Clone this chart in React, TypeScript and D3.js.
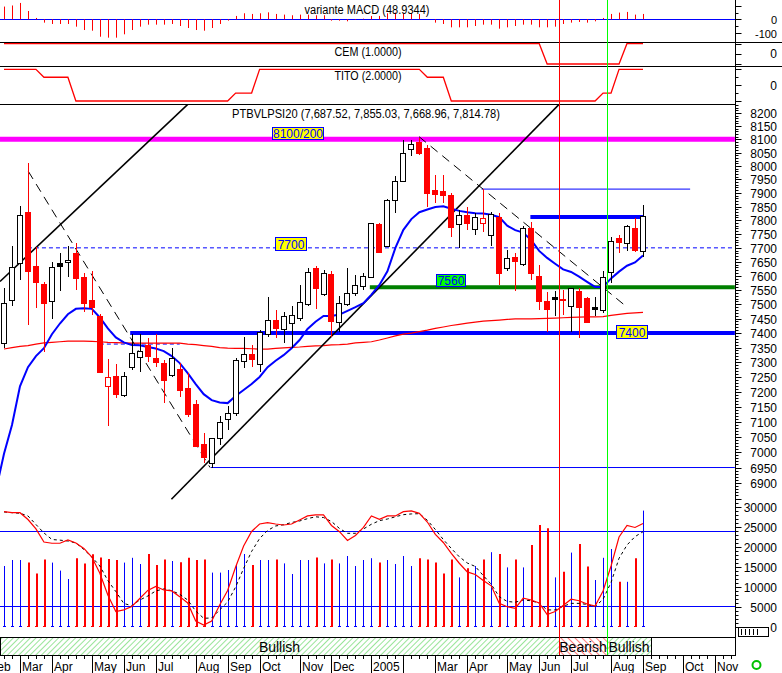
import React from "react";
import * as d3 from "d3";

// ---------- DATA (weekly, first bar = week of 2004-02-20) ----------
const open = [
  7365, 7515, 7645, 7830, 7636, 7572, 7511, 7645, 7648, 7681,
  7596, 7515, 7459, 7219, 7253, 7188, 7284, 7319, 7359, 7315,
  7298, 7256, 7277, 7214, 7159, 7027, 6964, 7045, 7108, 7130,
  7303, 7327, 7294, 7396, 7445, 7413, 7436, 7451, 7500, 7629,
  7535, 7605, 7439, 7501, 7538, 7565, 7597, 7785, 7708, 7874,
  7944, 8062, 8091, 8068, 7911, 7908, 7892, 7785, 7819, 7767,
  7791, 7746, 7811, 7627, 7666, 7642, 7773, 7600, 7512, 7526,
  7518, 7494, 7546, 7521, 7491, 7480, 7615, 7736, 7718, 7773,
  7687.52,
];
const high = [
  7557, 7708, 7852, 8010, 7704, 7580, 7648, 7680, 7706, 7718,
  7609, 7617, 7466, 7311, 7294, 7266, 7396, 7397, 7382, 7397,
  7306, 7348, 7296, 7264, 7172, 7062, 7047, 7119, 7152, 7313,
  7387, 7359, 7410, 7526, 7480, 7474, 7494, 7568, 7629, 7635,
  7621, 7617, 7529, 7627, 7603, 7610, 7791, 7789, 7877, 7962,
  8097, 8097, 8104, 8078, 7966, 7966, 7898, 7837, 7849, 7825,
  7915, 7829, 7825, 7692, 7680, 7779, 7793, 7639, 7544, 7548,
  7550, 7558, 7556, 7525, 7526, 7618, 7740, 7747, 7783, 7807,
  7855.03,
];
const low = [
  7350, 7495, 7585, 7428, 7486, 7334, 7448, 7548, 7597, 7550,
  7474, 7462, 7263, 7087, 7178, 7181, 7273, 7268, 7301, 7284,
  7164, 7250, 7181, 7115, 7017, 6964, 6950, 7023, 7073, 7119,
  7279, 7284, 7268, 7387, 7384, 7367, 7347, 7443, 7494, 7482,
  7529, 7387, 7404, 7494, 7529, 7550, 7591, 7680, 7704, 7828,
  7942, 8037, 8040, 7847, 7862, 7862, 7740, 7698, 7764, 7746,
  7757, 7708, 7568, 7618, 7545, 7636, 7585, 7480, 7404, 7459,
  7462, 7404, 7382, 7436, 7459, 7468, 7574, 7680, 7690, 7686,
  7668.96,
];
const close = [
  7503, 7630, 7818, 7618, 7579, 7505, 7630, 7635, 7656, 7593,
  7503, 7489, 7266, 7251, 7192, 7253, 7330, 7338, 7322, 7301,
  7240, 7313, 7206, 7126, 7021, 6985, 7045, 7098, 7128, 7306,
  7327, 7310, 7404, 7445, 7416, 7459, 7462, 7509, 7615, 7557,
  7609, 7443, 7503, 7540, 7568, 7600, 7789, 7686, 7874, 7944,
  8047, 8081, 8047, 7899, 7897, 7894, 7776, 7819, 7789, 7813,
  7807, 7822, 7609, 7662, 7654, 7773, 7609, 7511, 7483, 7517,
  7514, 7556, 7489, 7439, 7483, 7595, 7725, 7721, 7779, 7692,
  7814.78,
];
const volume = [
  15250, 16750, 16750, 16100, 13400, 16900, 16100, 14100, 12000, 17200,
  15900, 18200, 17400, 17000, 16750, 16100, 17300, 15750, 18250, 15500,
  16900, 16500, 16200, 17300, 16750, 16900, 13600, 13600, 14250, 15500,
  18250, 15500, 16750, 16750, 16900, 15900, 13250, 16750, 16750, 17400,
  15900, 16900, 15900, 17750, 15250, 16750, 17200, 16100, 16750, 15750,
  17750, 15250, 17200, 16900, 16100, 13400, 16900, 12400, 14700, 15250,
  16900, 18700, 18250, 14900, 16900, 14900, 20500, 25500, 24700, 12400,
  13800, 18600, 20750, 15100, 11750, 17300, 19500, 11300, 11300, 17200,
  29100,
];
const macd = [
  95, 103, 122, 62, 10, -25, -35, -35, -35, -55,
  -80, -85, -130, -137, -137, -112, -80, -55, -40, -40,
  -40, -35, -50, -65, -80, -85, -65, -35, -10, 25,
  45, 40, 45, 52, 40, 35, 30, 35, 35, 30,
  30, -10, -10, -15, -5, 5, 25, 25, 45, 50,
  45, 45, 40, 0, -25, -35, -60, -60, -60, -50,
  -40, -40, -70, -60, -50, -40, -40, -60, -60, -55,
  -35, -25, -20, -25, -15, 10, 40, 50, 55, 35,
  40,
];
const cem = [
  1, 1, 1, 1, 1, 1, 1, 1, 1, 1,
  1, 1, 1, 1, 1, 1, 1, 1, 1, 1,
  1, 1, 1, 1, 1, 1, 1, 1, 1, 1,
  1, 1, 1, 1, 1, 1, 1, 1, 1, 1,
  1, 1, 1, 1, 1, 1, 1, 1, 1, 1,
  1, 1, 1, 1, 1, 1, 1, 1, 1, 1,
  1, 1, 1, 1, 1, 1, 1, 1, -1, -1,
  -1, -1, -1, -1, -1, -1, -1, -1, 1, 1,
  1,
];
const tito = [
  2, 2, 2, 2, 2, 1, 1, 1, 1, -2,
  -2, -2, -2, -2, -2, -2, -2, -2, -2, -2,
  -2, -2, -2, -2, -2, -2, -2, -2, -2, -1,
  -1, -1, 2, 2, 2, 2, 2, 2, 2, 2,
  2, 2, 2, 2, 2, 2, 2, 2, 2, 2,
  2, 2, 2, 1, 1, 1, -2, -2, -2, -2,
  -2, -2, -2, -2, -2, -2, -2, -2, -2, -2,
  -2, -2, -2, -2, -2, -1, -1, 2, 2, 2,
  2,
];
// fast moving average (blue), first value is the week before the first bar
const maFast = [
  6878,
  6995, 7089, 7218, 7283, 7321, 7348, 7396, 7433, 7465, 7484,
  7486, 7484, 7454, 7416, 7385, 7368, 7359, 7358, 7352, 7347,
  7338, 7321, 7297, 7263, 7226, 7192, 7172, 7164, 7162, 7186,
  7206, 7226, 7250, 7283, 7305, 7324, 7348, 7376, 7414, 7439,
  7459, 7459, 7464, 7477, 7490, 7504, 7534, 7568, 7616, 7700,
  7765, 7804, 7829, 7839, 7848, 7851, 7842, 7834, 7829, 7825,
  7824, 7820, 7811, 7780, 7764, 7755, 7728, 7689, 7664, 7643,
  7623, 7614, 7597, 7579, 7561, 7561, 7591, 7615, 7636, 7648,
  7673,
];
// slow moving average (red)
const maSlow = [
  7345, 7350, 7354, 7357, 7362, 7366, 7368, 7370, 7372, 7372,
  7372, 7371, 7370, 7368, 7367, 7366, 7365, 7365, 7365, 7365,
  7365, 7365, 7365, 7362, 7360, 7357, 7354, 7350, 7348, 7347,
  7347, 7346, 7345, 7345, 7347, 7349, 7351, 7352, 7354, 7356,
  7357, 7359, 7360, 7362, 7366, 7368, 7370, 7376, 7383, 7390,
  7396, 7400, 7405, 7410, 7416, 7421, 7426, 7430, 7434, 7438,
  7441, 7443, 7445, 7447, 7449, 7449, 7449, 7450, 7451, 7452,
  7453, 7454, 7455, 7456, 7456, 7457, 7461, 7465, 7468, 7470,
  7472,
];
const oscK = [
  95.9, 95.1, 95.1, 89.6, 82.0, 71.5, 70.5, 70.5, 73.1, 70.7,
  66.3, 59.4, 46.3, 28.8, 15.5, 16.9, 19.6, 26.0, 32.5, 35.7,
  32.9, 32.1, 27.5, 22.4, 7.9, 4.7, 7.9, 20.8, 32.5, 51.4,
  68.3, 80.0, 86.0, 87.1, 86.0, 85.2, 86.0, 89.2, 92.5, 93.3,
  93.3, 84.8, 79.8, 72.7, 76.7, 83.2, 92.5, 89.8, 92.5, 92.5,
  95.9, 96.5, 94.6, 87.6, 77.6, 71.1, 62.3, 54.4, 47.4, 45.3,
  40.5, 36.2, 22.1, 19.4, 18.0, 26.2, 24.8, 22.4, 13.1, 15.5,
  20.4, 25.4, 24.2, 21.6, 20.0, 32.1, 52.2, 75.5, 84.8, 83.2,
  86.4,
];
const oscD = [
  95.7, 95.1, 94.6, 92.5, 85.6, 78.8, 73.5, 73.0, 72.3, 70.7,
  65.5, 59.4, 52.2, 40.5, 31.6, 22.0, 20.2, 24.8, 28.0, 32.1,
  33.7, 32.3, 29.4, 24.8, 15.9, 10.1, 10.3, 16.8, 23.2, 35.3,
  50.2, 63.9, 74.3, 80.8, 84.4, 85.4, 87.2, 88.4, 90.3, 91.8,
  91.2, 88.0, 82.4, 78.5, 78.5, 82.0, 85.8, 88.7, 90.0, 91.8,
  93.5, 94.1, 94.3, 89.0, 81.6, 73.5, 66.3, 59.6, 54.6, 51.8,
  44.5, 37.4, 27.5, 23.6, 23.0, 24.8, 24.2, 22.2, 16.8, 16.8,
  19.7, 22.1, 22.1, 21.2, 19.4, 25.4, 38.9, 58.4, 69.1, 75.8,
  79.8,
];
const oscLevels = [80, 20];

// month ticks (week index of first weekly bar of each month)
const monthLabels = ["Feb", "Mar", "Apr", "May", "Jun", "Jul", "Aug", "Sep", "Oct", "Nov", "Dec", "2005", "Feb", "Mar", "Apr", "May", "Jun", "Jul", "Aug", "Sep", "Oct", "Nov"];
const monthWeeks = [-2, 2, 6, 11, 15, 19, 24, 28, 32, 37, 41, 46, 50, 54, 58, 63, 67, 71, 76, 80, 85, 89];
const monthShown = [true, true, true, true, true, true, true, true, true, true, true, true, false, true, true, true, true, true, true, true, true, true];

// drawn studies
const priceLevels = [
  { price: 8100, from: -0.5, to: 91.5, color: "#ff00ff", width: 5, dash: "" },
  { price: 7700, from: 3, to: 91.5, color: "#0000ff", width: 1, dash: "4,3" },
  { price: 7560, from: 45.8, to: 91.5, color: "#008000", width: 4, dash: "" },
  { price: 7400, from: 15.8, to: 91.5, color: "#0000ff", width: 4, dash: "" },
  { price: 7812, from: 65.9, to: 80, color: "#0000ff", width: 4, dash: "" },
  { price: 7914, from: 59.8, to: 85.9, color: "#0000ff", width: 1, dash: "" },
  { price: 6950, from: 25.9, to: 91.5, color: "#0000ff", width: 1, dash: "" },
  { price: 7362, from: 12, to: 22, color: "#0000ff", width: 1, dash: "4,3" },
];
const levelLabels = [
  { text: "8100/200", week: 33.5, price: 8100, w: 51, h: 12, dy: -12, fill: "#ffff00" },
  { text: "7700", week: 33.9, price: 7700, w: 31, h: 13, dy: -10.5, fill: "#ffff00" },
  { text: "7560", week: 54.05, price: 7560, w: 29, h: 12, dy: -13, fill: "#00ff00" },
  { text: "7400", week: 76.6, price: 7400, w: 31, h: 13, dy: -8, fill: "#ffff00" },
];
const solidTrends = [
  { w1: -0.5, p1: 7580, w2: 23.04, p2: 8234 },
  { w1: 20.96, p1: 6848, w2: 69.52, p2: 8234 },
];
const dashedTrends = [
  { w1: 3.04, p1: 7980, w2: 25.8, p2: 6950 },
  { w1: 51.96, p1: 8110, w2: 77.96, p2: 7491 },
];
const sellSignal = 69.5;
const buySignal = 75.5;
const regimes = [
  { label: "Bullish", from: -0.5, to: 69.5, bull: true },
  { label: "Bearish", from: 69.5, to: 75.5, bull: false },
  { label: "Bullish", from: 75.5, to: 81, bull: true },
];

const FONT = "'Liberation Sans', Arial, Helvetica, sans-serif";

export default function App() {
  const N = close.length;
  const weeks = d3.range(N);
  const x = d3.scaleLinear().domain([0, 80]).range([4, 643]);
  const px = (w: number) => Math.round(x(w));
  const yP = d3.scaleLog().domain([6900, 8200]).range([483, 113]);
  const yV = d3.scaleLinear().domain([0, 30000]).range([627, 507]);
  const yO = d3.scaleLinear().domain([0, 100]).range([630.8, 506.6]);
  const yM = d3.scaleLinear().domain([-100, 0]).range([32.7, 19.3]);
  const yC = d3.scaleLinear().domain([-1, 1]).range([64, 43.5]);
  const yT = d3.scaleLinear().domain([-2, 2]).range([101, 69.3]);
  const AX = 735.5;
  const RX = 777;

  const col = (i: number) => (i === 0 || close[i] >= close[i - 1] ? "#000000" : "#ff0000");

  const lineFast = d3.line<number>().x((_, k) => x(k - 1)).y((v) => yP(v));
  const lineSlow = d3.line<number>().x((_, k) => x(k)).y((v) => yP(v));
  const lineOsc = d3.line<number>().x((_, k) => x(k)).y((v) => yO(v));
  const lineCem = d3.line<number>().x((_, k) => x(k)).y((v) => yC(v));
  const lineTito = d3.line<number>().x((_, k) => x(k)).y((v) => yT(v));

  const priceTicks = d3.range(6850, 8240, 10).filter((v) => yP(v) >= 104 && yP(v) <= 500);
  const volTicks = d3.range(0, 32000, 1000).filter((v) => yV(v) >= 500);

  return (
    <div style={{ position: "absolute", left: 0, top: 0, width: 782, height: 673, background: "#fff" }}>
      <svg width={782} height={673} style={{ display: "block" }} fontFamily={FONT}>
        <defs>
          <clipPath id="clipMain"><rect x={0} y={104} width={735} height={396} /></clipPath>
          <clipPath id="clipVol"><rect x={0} y={500} width={735} height={137} /></clipPath>
          <clipPath id="clipTop"><rect x={0} y={0} width={735} height={104} /></clipPath>
          <pattern id="hatchG" width="4" height="4" patternUnits="userSpaceOnUse" patternTransform="rotate(45)">
            <line x1="0" y1="0" x2="0" y2="4" stroke="#33cc33" strokeWidth="1" />
          </pattern>
          <pattern id="hatchR" width="5" height="5" patternUnits="userSpaceOnUse" patternTransform="rotate(-45)">
            <line x1="0" y1="0" x2="0" y2="5" stroke="#ff0000" strokeWidth="1" />
          </pattern>
        </defs>
        <rect x={0} y={0} width={782} height={673} fill="#fff" />

        {/* ---------- top panels ---------- */}
        <g clipPath="url(#clipTop)">
          <line x1={0} x2={735} y1={19.5} y2={19.5} stroke="#0000ff" />
          {weeks.map((i) => (
            <line key={"m" + i} x1={px(i) + 0.5} x2={px(i) + 0.5} y1={yM(0)} y2={yM(macd[i])} stroke="#ff0000" />
          ))}
          <path d={lineCem(cem) || ""} fill="none" stroke="#ff0000" strokeWidth={1.3} />
          <path d={lineTito(tito) || ""} fill="none" stroke="#ff0000" strokeWidth={1.3} />
        </g>
        <text x={367} y={14} textAnchor="middle" fontSize={12} textLength={125} lengthAdjust="spacingAndGlyphs">variante MACD (48.9344)</text>
        <text x={368} y={56} textAnchor="middle" fontSize={12} textLength={67} lengthAdjust="spacingAndGlyphs">CEM (1.0000)</text>
        <text x={368} y={80} textAnchor="middle" fontSize={12} textLength={67} lengthAdjust="spacingAndGlyphs">TITO (2.0000)</text>
        <line x1={0} x2={782} y1={42.5} y2={42.5} stroke="#000" />
        <line x1={0} x2={782} y1={66.5} y2={66.5} stroke="#000" />
        <line x1={0} x2={736} y1={104.5} y2={104.5} stroke="#000" />
        {/* top axes */}
        {[100, 50, 0, -50, -100].map((v) => (
          <line key={"mt" + v} x1={AX} x2={AX + (v % 100 === 0 ? 6 : 3)} y1={Math.round(yM(v)) + 0.5} y2={Math.round(yM(v)) + 0.5} stroke="#000" />
        ))}
        <text x={RX} y={yM(0) + 1} textAnchor="end" dominantBaseline="central" fontSize={11}>0</text>
        <text x={RX} y={yM(-100) + 1} textAnchor="end" dominantBaseline="central" fontSize={11}>-100</text>
        {[1, 0, -1].map((v) => (
          <line key={"ct" + v} x1={AX} x2={AX + 6} y1={Math.round(yC(v)) + 0.5} y2={Math.round(yC(v)) + 0.5} stroke="#000" />
        ))}
        <text x={RX} y={yC(0) + 0.5} textAnchor="end" dominantBaseline="central" fontSize={12}>0</text>
        {[2, 1, 0, -1, -2].map((v) => (
          <line key={"tt" + v} x1={AX} x2={AX + (v % 2 === 0 ? 6 : 3)} y1={Math.round(yT(v)) + 0.5} y2={Math.round(yT(v)) + 0.5} stroke="#000" />
        ))}
        <text x={RX} y={yT(0) + 0.5} textAnchor="end" dominantBaseline="central" fontSize={12}>0</text>

        {/* ---------- main price panel ---------- */}
        <g clipPath="url(#clipMain)">
          {priceLevels.map((l, k) => (
            <line key={"pl" + k} x1={x(l.from)} x2={x(l.to)} y1={yP(l.price)} y2={yP(l.price)} stroke={l.color} strokeWidth={l.width} strokeDasharray={l.dash || undefined} />
          ))}
          <path d={lineSlow(maSlow) || ""} fill="none" stroke="#ff0000" strokeWidth={1.2} />
          {solidTrends.map((t, k) => (
            <line key={"st" + k} x1={x(t.w1)} y1={yP(t.p1)} x2={x(t.w2)} y2={yP(t.p2)} stroke="#000" strokeWidth={1.6} />
          ))}
          {dashedTrends.map((t, k) => (
            <line key={"dt" + k} x1={x(t.w1)} y1={yP(t.p1)} x2={x(t.w2)} y2={yP(t.p2)} stroke="#000" strokeWidth={1} strokeDasharray="9,6" />
          ))}
          <path d={lineFast(maFast) || ""} fill="none" stroke="#0000ff" strokeWidth={2} />
          {weeks.map((i) => {
            const c = col(i);
            const filled = close[i] < open[i];
            const top = Math.round(yP(Math.max(open[i], close[i])));
            const bot = Math.max(Math.round(yP(Math.min(open[i], close[i]))), top + 1);
            const cx = px(i);
            return (
              <g key={"c" + i}>
                <line x1={cx + 0.5} x2={cx + 0.5} y1={Math.round(yP(high[i]))} y2={Math.round(yP(low[i]))} stroke={c} />
                <rect x={cx - 2.5} y={top + 0.5} width={5} height={bot - top} fill={filled ? c : "#ffffff"} stroke={c} />
              </g>
            );
          })}
          {levelLabels.map((l, k) => {
            const lx = Math.round(x(l.week)) + 0.5;
            const ly = Math.round(yP(l.price) + l.dy) + 0.5;
            return (
              <g key={"ll" + k}>
                <rect x={lx} y={ly} width={l.w} height={l.h} fill={l.fill} stroke="#0000ff" />
                <text x={lx + l.w / 2} y={ly + l.h / 2 + 0.5} textAnchor="middle" dominantBaseline="central" fontSize={12} fill="#0000ff">{l.text}</text>
              </g>
            );
          })}
        </g>
        <text x={366} y={118} textAnchor="middle" fontSize={12} textLength={268} lengthAdjust="spacingAndGlyphs">PTBVLPSI20 (7,687.52, 7,855.03, 7,668.96, 7,814.78)</text>
        {/* main axis */}
        <line x1={AX} x2={AX} y1={0} y2={655} stroke="#000" />
        {priceTicks.map((v) => {
          const y = Math.round(yP(v)) + 0.5;
          const major = v % 50 === 0;
          return (
            <g key={"pt" + v}>
              <line x1={AX} x2={AX + (major ? 6 : 3)} y1={y} y2={y} stroke="#000" />
              {major && v >= 6900 && v <= 8200 && (
                <text x={RX} y={y} textAnchor="end" dominantBaseline="central" fontSize={12}>{v}</text>
              )}
            </g>
          );
        })}

        {/* ---------- volume / oscillator panel ---------- */}
        <g clipPath="url(#clipVol)">
          {oscLevels.map((v) => (
            <line key={"ol" + v} x1={0} x2={735} y1={Math.round(yO(v)) + 0.5} y2={Math.round(yO(v)) + 0.5} stroke="#0000ff" />
          ))}
          {weeks.map((i) => {
            const c = col(i) === "#000000" ? "#0000ff" : "#ff0000";
            const cx = px(i);
            const red = c === "#ff0000";
            return (
              <g key={"v" + i}>
                <line x1={red ? cx + 1 : cx + 0.5} x2={red ? cx + 1 : cx + 0.5} y1={yV(0)} y2={yV(volume[i])} stroke={c} strokeWidth={red ? 2 : 1} />
                <line x1={cx - 1} x2={cx + 2} y1={yV(0) - 0.5} y2={yV(0) - 0.5} stroke={c} />
              </g>
            );
          })}
          <path d={lineOsc(oscD) || ""} fill="none" stroke="#000" strokeWidth={1} strokeDasharray="3,3" />
          <path d={lineOsc(oscK) || ""} fill="none" stroke="#ff0000" strokeWidth={1.2} />
        </g>
        {volTicks.map((v) => {
          const y = Math.round(yV(v)) + 0.5;
          const major = v % 5000 === 0;
          return (
            <g key={"vt" + v}>
              <line x1={AX} x2={AX + (major ? 6 : 3)} y1={y} y2={y} stroke="#000" />
              {major && v <= 30000 && (
                <text x={RX} y={y} textAnchor="end" dominantBaseline="central" fontSize={12}>{v}</text>
              )}
            </g>
          );
        })}
        <rect x={738.5} y={627.5} width={30} height={9} fill="#fff" stroke="#000" />
        {[741, 745, 749, 753, 757].map((v) => (
          <line key={"wg" + v} x1={v + 0.5} x2={v + 0.5} y1={629} y2={635} stroke="#000" />
        ))}

        {/* ---------- regime bar ---------- */}
        {regimes.map((r, k) => {
          const x0 = Math.max(0, Math.round(x(r.from)));
          const x1 = Math.round(x(r.to));
          return (
            <g key={"r" + k}>
              <rect x={x0 + 0.5} y={637.5} width={x1 - x0} height={18} fill={r.bull ? "url(#hatchG)" : "url(#hatchR)"} stroke="#000" />
              <text x={(x0 + x1) / 2} y={651.5} textAnchor="middle" fontSize={14}>{r.label}</text>
            </g>
          );
        })}
        <line x1={0} x2={736} y1={637.5} y2={637.5} stroke="#000" />
        <line x1={0} x2={736} y1={655.5} y2={655.5} stroke="#000" />

        {/* signals */}
        <line x1={Math.round(x(sellSignal)) + 0.5} x2={Math.round(x(sellSignal)) + 0.5} y1={0} y2={655} stroke="#ff0000" />
        <line x1={Math.round(x(buySignal)) + 0.5} x2={Math.round(x(buySignal)) + 0.5} y1={0} y2={655} stroke="#00ff00" />

        {/* ---------- time axis ---------- */}
        {d3.range(-2, 92).map((w) => (
          <line key={"wt" + w} x1={px(w) + 0.5} x2={px(w) + 0.5} y1={655} y2={659} stroke="#000" />
        ))}
        {monthWeeks.map((w, k) => (
          <g key={"mo" + k}>
            <line x1={px(w) + 0.5} x2={px(w) + 0.5} y1={655} y2={673} stroke="#000" />
            {monthShown[k] && (
              <text x={px(w) + 2} y={671} fontSize={12}>{monthLabels[k]}</text>
            )}
          </g>
        ))}
        <circle cx={756.5} cy={665} r={4} fill="none" stroke="#00c000" strokeWidth={2} />
      </svg>
    </div>
  );
}
